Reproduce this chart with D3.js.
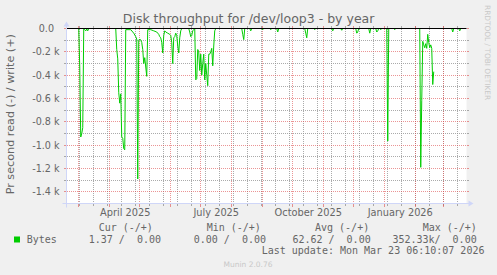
<!DOCTYPE html>
<html>
<head>
<meta charset="utf-8">
<script src="https://cdn.jsdelivr.net/npm/d3@7"></script>
<style>
body { margin: 0; background: #f0f0f0; }
svg { display: block; }
.mono { font-family: "DejaVu Sans Mono", monospace; font-size: 10px; fill: #666; white-space: pre; }
</style>
</head>
<body>
<svg id="chart"></svg>
<script>
// read throughput (bytes/s), drawn negative; null = no data
var days = [
  "2025-02-16","2025-03-01","2025-03-02","2025-03-03","2025-03-04","2025-03-05","2025-03-06","2025-03-07","2025-03-08","2025-03-09","2025-03-10","2025-03-11",
  "2025-04-07","2025-04-08","2025-04-09","2025-04-10","2025-04-11","2025-04-12","2025-04-13","2025-04-14","2025-04-15","2025-04-16","2025-04-17","2025-04-22","2025-04-25","2025-04-27","2025-04-28","2025-04-29","2025-04-30",
  "2025-05-01","2025-05-02","2025-05-03","2025-05-04","2025-05-05","2025-05-06","2025-05-07","2025-05-08","2025-05-09","2025-05-12","2025-05-15","2025-05-18","2025-05-20","2025-05-21","2025-05-22","2025-05-23","2025-05-24","2025-05-25","2025-05-26","2025-05-27","2025-05-29","2025-05-31",
  "2025-06-01","2025-06-02","2025-06-03","2025-06-04","2025-06-05","2025-06-06","2025-06-07","2025-06-08","2025-06-09","2025-06-10","2025-06-11","2025-06-12","2025-06-19","2025-06-20","2025-06-21","2025-06-22","2025-06-23","2025-06-24","2025-06-25","2025-06-26","2025-06-27","2025-06-28","2025-06-29","2025-06-30",
  "2025-07-01","2025-07-02","2025-07-03","2025-07-04","2025-07-05","2025-07-06","2025-07-07","2025-07-08","2025-07-09","2025-07-10","2025-07-11","2025-07-12","2025-07-13","2025-07-14","2025-07-15","2025-07-16",
  "2025-08-11","2025-08-12","2025-08-13","2025-08-14","2025-08-19","2025-08-20","2025-08-21","2025-08-31",
  "2025-09-01","2025-09-02","2025-09-08","2025-09-09","2025-09-10","2025-09-15","2025-09-16","2025-09-17",
  "2025-10-13","2025-10-14","2025-10-15","2025-10-16","2025-10-22","2025-10-23","2025-10-24",
  "2025-11-09","2025-11-10","2025-11-11","2025-11-18","2025-11-19","2025-11-20",
  "2025-12-03","2025-12-04","2025-12-05","2025-12-06","2025-12-16","2025-12-17","2025-12-18","2025-12-23","2025-12-24","2025-12-25","2025-12-26","2025-12-27","2025-12-28","2025-12-29",
  "2026-01-03","2026-01-04","2026-01-05","2026-01-10","2026-01-11","2026-01-12",
  "2026-02-05","2026-02-06","2026-02-07","2026-02-08","2026-02-09","2026-02-10","2026-02-11","2026-02-12","2026-02-13","2026-02-14","2026-02-15","2026-02-16","2026-02-17","2026-02-18","2026-02-19","2026-02-20","2026-02-23",
  "2026-03-09","2026-03-10","2026-03-11","2026-03-16","2026-03-17","2026-03-18","2026-03-23"
]
var readBytes = [
  0,0,330,930,900,850,0,10,20,5,20,0,
  0,180,260,550,640,560,930,940,1030,1040,10,10,40,70,90,1290,100,
  90,100,120,180,300,250,330,410,10,10,20,30,50,70,80,120,210,60,20,30,40,50,
  60,120,300,80,70,40,60,150,210,80,20,0,0,30,70,60,20,10,0,440,430,180,200,360,
  220,400,300,220,440,300,400,490,220,220,200,170,320,150,20,0,
  0,50,95,0,0,20,0,0,
  10,0,0,10,0,0,30,0,
  0,40,80,0,0,10,0,
  0,20,0,0,15,0,
  0,40,30,0,0,40,0,0,30,20,0,0,10,0,
  0,965,0,0,10,0,
  0,1190,620,110,140,165,130,170,50,120,165,140,170,480,370,null,0,
  0,30,0,0,20,0,0
]

var yTicks = [0, -200, -400, -600, -800, -1000, -1200, -1400]
var quarterStarts = ["2025-04-01", "2025-07-01", "2025-10-01", "2026-01-01"]
var quarterLabels = ["April 2025", "July 2025", "October 2025", "January 2026"]

var legendHeads = ["Cur (-/+)", "Min (-/+)", "Avg (-/+)", "Max (-/+)"]
var legendValues = ["1.37 /  0.00", "0.00 /  0.00", "62.62 /  0.00", "352.33k/  0.00"]

var dimensions = { width: 497, height: 275 }
var X0 = 66.5, X1 = 466.5, Y0 = 203.5, Y1 = 28.5

var parseDay = d3.timeParse("%Y-%m-%d")
var end = new Date(2026, 2, 23, 6, 10, 7)
var start = d3.timeDay.offset(end, -400)

var dataset = days.map((d, i) => ({ date: parseDay(d), v: readBytes[i] }))

var svg = d3.select("#chart")
  .attr("width", dimensions.width)
  .attr("height", dimensions.height)
  .style("font-family", "'DejaVu Sans', sans-serif")

svg.append("rect")
  .attr("width", dimensions.width).attr("height", dimensions.height)
  .attr("fill", "#f0f0f0")

var xScale = d3.scaleTime().domain([start, end]).range([66, 466])
var yScale = d3.scaleLinear().domain([-1500, 0]).range([Y0, Y1])

var snap = v => Math.floor(v) + 0.5

// canvas
svg.append("rect")
  .attr("x", X0).attr("y", Y1)
  .attr("width", X1 - X0).attr("height", Y0 - Y1)
  .attr("fill", "#ffffff")

var gridCol = "rgba(143,143,143,0.75)"
var mgridCol = "rgba(222,79,79,0.6)"
var grid = svg.append("g").attr("stroke-width", 1).attr("fill", "none")

// minor vertical: every second Sunday
var ref = parseDay("2025-03-16")
var minorX = d3.timeSunday.range(start, end).filter(d => d3.timeDay.count(ref, d) % 14 === 0)
var majorX = d3.timeMonth.range(start, end)

// dashes start on whole pixels so the dots stay crisp
function vline(d, col, tick) {
  var px = snap(xScale(d))
  grid.append("line").attr("x1", px).attr("x2", px).attr("y1", 29).attr("y2", 203)
    .attr("stroke", col).attr("stroke-dasharray", "1,1")
  grid.append("line").attr("x1", px).attr("x2", px).attr("y1", 204).attr("y2", 204 + tick)
    .attr("stroke", col)
  grid.append("line").attr("x1", px).attr("x2", px).attr("y1", 26).attr("y2", 28)
    .attr("stroke", col)
}
function hline(v, col) {
  var py = snap(yScale(v))
  grid.append("line").attr("x1", 67).attr("x2", 466).attr("y1", py).attr("y2", py)
    .attr("stroke", col).attr("stroke-dasharray", "1,1")
  grid.append("line").attr("x1", 64).attr("x2", 66).attr("y1", py).attr("y2", py)
    .attr("stroke", col)
  grid.append("line").attr("x1", 467).attr("x2", 469).attr("y1", py).attr("y2", py)
    .attr("stroke", col)
}

minorX.forEach(d => vline(d, gridCol, 2))
d3.range(-1300, 0, 200).forEach(v => hline(v, gridCol))
majorX.forEach(d => vline(d, mgridCol, 3))
yTicks.forEach(v => hline(v, mgridCol))

// data
svg.append("defs").append("clipPath").attr("id", "clip")
  .append("rect").attr("x", X0).attr("y", Y1 - 1).attr("width", X1 - X0).attr("height", Y0 - Y1 + 1)

var lineGen = d3.line()
  .defined(d => d.v != null)
  .x(d => xScale(d.date))
  .y(d => yScale(-d.v))

svg.append("path")
  .datum(dataset)
  .attr("clip-path", "url(#clip)")
  .attr("d", lineGen)
  .attr("fill", "none")
  .attr("stroke", "#00cc00")
  .attr("stroke-width", 1)

svg.append("line")
  .attr("x1", X0).attr("x2", X1)
  .attr("y1", yScale(0)).attr("y2", yScale(0))
  .attr("stroke", "#000").attr("stroke-width", 1)

// axes lines + arrows
var axisCol = "#cfd6f8"
svg.append("line").attr("x1", X0 - 4).attr("x2", X1 + 4).attr("y1", Y0).attr("y2", Y0)
  .attr("stroke", axisCol)
svg.append("line").attr("x1", X0).attr("x2", X0).attr("y1", Y0 + 4).attr("y2", Y1 - 4)
  .attr("stroke", axisCol)
svg.append("path")
  .attr("d", `M${X1 + 2},${Y0 - 3}L${X1 + 2},${Y0 + 3}L${X1 + 7},${Y0}Z`)
  .attr("fill", axisCol)
svg.append("path")
  .attr("d", `M${X0 - 3},${Y1 - 2}L${X0 + 3},${Y1 - 2}L${X0},${Y1 - 7}Z`)
  .attr("fill", axisCol)

// y tick labels
var yAxisGen = d3.axisLeft(yScale)
  .tickValues(yTicks)
  .tickSize(0).tickPadding(0)
  .tickFormat(v => v === 0 ? "0.0" : (v / 1000).toFixed(1) + " k")
var yAxis = svg.append("g")
  .attr("transform", "translate(59.5,0)")
  .call(yAxisGen)
yAxis.select(".domain").remove()
yAxis.selectAll("text")
  .attr("fill", "#666")
  .style("font-family", "'DejaVu Sans', sans-serif")
  .style("font-size", "9.6px")
  .attr("x", d => d === 0 ? -5.5 : 0)

// x labels, centred mid-month
var labelDates = quarterStarts.map(d => d3.timeDay.offset(parseDay(d), 15))
var xAxisGen = d3.axisBottom(xScale)
  .tickValues(labelDates)
  .tickSize(0).tickPadding(5.4)
  .tickFormat((d, i) => quarterLabels[i])
var xAxis = svg.append("g")
  .attr("transform", `translate(0,${Y0})`)
  .call(xAxisGen)
xAxis.select(".domain").remove()
xAxis.selectAll("text")
  .attr("fill", "#666")
  .style("font-family", "'DejaVu Sans', sans-serif")
  .style("font-size", "9.8px")

// title
svg.append("text")
  .attr("x", 248.6).attr("y", 23)
  .attr("text-anchor", "middle")
  .attr("fill", "#666")
  .style("font-size", "12.5px")
  .text("Disk throughput for /dev/loop3 - by year")

// vertical label
svg.append("text")
  .attr("transform", "translate(14.3,114.2) rotate(-90)")
  .attr("text-anchor", "middle")
  .attr("fill", "#666")
  .style("font-size", "11.2px")
  .text("Pr second read (-) / write (+)")

// watermark
svg.append("text")
  .attr("transform", "translate(485,5) rotate(90)")
  .attr("fill", "#c8c8c8")
  .style("font-size", "7.4px")
  .text("RRDTOOL / TOBI OETIKER")

// legend
var headX = [98.7, 206.7, 315, 422.7]
var valEndX = [161, 266, 370.7, 476.7]
svg.selectAll(".head").data(legendHeads).enter().append("text")
  .attr("class", "mono head")
  .attr("x", (d, i) => headX[i]).attr("y", 231)
  .text(d => d)
svg.selectAll(".val").data(legendValues).enter().append("text")
  .attr("class", "mono val")
  .attr("x", (d, i) => valEndX[i]).attr("y", 242.5)
  .attr("text-anchor", "end")
  .text(d => d)
svg.append("rect")
  .attr("x", 14).attr("y", 236.5).attr("width", 6).attr("height", 6)
  .attr("fill", "#00cc00")
svg.append("text").attr("class", "mono")
  .attr("x", 26.7).attr("y", 242.5)
  .text("Bytes")
svg.append("text").attr("class", "mono")
  .attr("x", 261.7).attr("y", 254)
  .text("Last update: Mon Mar 23 06:10:07 2026")

svg.append("text")
  .attr("x", 248).attr("y", 266.5)
  .attr("text-anchor", "middle")
  .attr("fill", "#c8c8c8")
  .style("font-size", "7.5px")
  .text("Munin 2.0.76")
</script>
</body>
</html>
